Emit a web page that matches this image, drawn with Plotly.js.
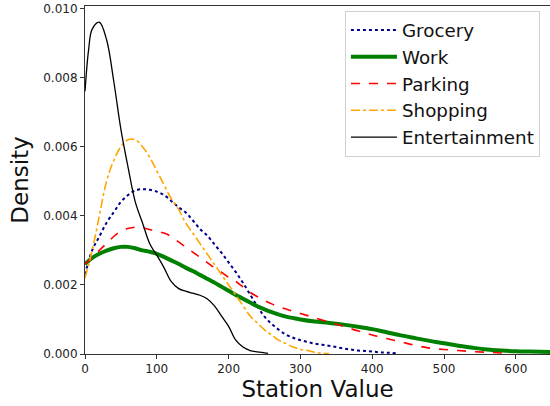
<!DOCTYPE html>
<html>
<head>
<meta charset="utf-8">
<script src="https://cdn.plot.ly/plotly-3.0.1.min.js"></script>
<style>html,body{margin:0;padding:0;background:#fff;}#chart{width:550px;height:406px;}</style>
</head>
<body>
<div id="chart"></div>
<script>
// Estimated density curves
const groceryX = [0,10,20,30,40,50,60,70,80,90,100,110,120,130,140,150,160,170,180,190,200,210,220,230,240,250,260,270,280,290,300,310,320,330,340,350,360,370,380,390,400,410,420,435];
const groceryY = [0.0023,0.0030,0.0034,0.0038,0.0041,0.0044,0.0046,0.00473,0.00477,0.00475,0.0047,0.0046,0.00443,0.00425,0.0041,0.00387,0.00362,0.00343,0.00318,0.00293,0.00265,0.00237,0.00206,0.00172,0.00138,0.00108,0.00087,0.0007,0.00056,0.00047,0.0004,0.00035,0.0003,0.00027,0.00024,0.0002,0.00016,0.00013,0.0001,0.00009,0.00007,0.00005,0.00004,0.00002];

const workX = [0,10,20,30,40,50,60,70,80,90,100,110,120,130,140,150,160,170,180,190,200,210,220,230,240,250,260,270,280,290,300,320,340,360,380,400,420,440,460,480,500,520,540,560,580,600,620,650];
const workY = [0.0026,0.00278,0.0029,0.00299,0.00306,0.0031,0.0031,0.00306,0.003,0.00296,0.0029,0.00281,0.00271,0.00261,0.0025,0.0024,0.00229,0.00218,0.00207,0.00195,0.00183,0.00171,0.0016,0.00149,0.00138,0.00129,0.00121,0.00114,0.00108,0.00104,0.001,0.00094,0.0009,0.00085,0.00079,0.00072,0.00063,0.00054,0.00046,0.00038,0.00031,0.00024,0.00018,0.00013,0.0001,0.00008,0.00007,0.00006];

const parkingX = [0,10,20,30,40,50,60,70,80,90,100,110,120,130,140,150,160,170,180,190,200,210,220,230,240,250,260,270,280,290,300,320,340,360,380,400,420,440,460,480,500,520,540,560,580,590];
const parkingY = [0.0026,0.0028,0.0030,0.0032,0.0034,0.00355,0.00363,0.00367,0.00365,0.0036,0.00355,0.0035,0.0034,0.00325,0.0031,0.00295,0.0028,0.00265,0.0025,0.00237,0.00222,0.0021,0.00194,0.00178,0.00166,0.00155,0.00145,0.00137,0.0013,0.00123,0.00117,0.00105,0.00092,0.0008,0.00067,0.00055,0.00045,0.00035,0.00025,0.00017,0.00013,0.0001,0.00007,0.00005,0.00003,0.00002];

const shoppingX = [0,10,20,30,40,50,60,70,80,90,100,110,120,130,140,150,160,170,180,190,200,210,220,230,240,250,260,270,280,290,300,310,320,330,340];
const shoppingY = [0.0022,0.0030,0.0040,0.0050,0.0056,0.0060,0.0062,0.0062,0.0060,0.0057,0.0053,0.0049,0.0045,0.0042,0.0038,0.0035,0.0032,0.0029,0.0026,0.0023,0.0020,0.0017,0.0014,0.0011,0.0009,0.0007,0.00055,0.0004,0.0003,0.0002,0.00013,0.0001,0.00005,0.00002,0.00001];

const entX = [0,5,10,20,30,40,50,60,70,80,90,100,110,120,130,140,150,160,170,180,190,200,210,220,230,240,255];
const entY = [0.0076,0.0088,0.0094,0.0096,0.0091,0.0079,0.0065,0.0054,0.0044,0.0038,0.0032,0.00286,0.0025,0.0021,0.0019,0.00182,0.00176,0.0017,0.0016,0.0014,0.0011,0.0008,0.0004,0.0002,0.0001,0.00006,0.00002];

const names = ['Grocery','Work','Parking','Shopping','Entertainment'];
const xTicks = [0,100,200,300,400,500,600];
const yTicks = [0,0.002,0.004,0.006,0.008,0.010];

const traces = [
  {x: groceryX, y: groceryY, name: names[0], line: {color: '#00008b', width: 2, dash: 'dot', shape: 'spline'}},
  {x: workX, y: workY, name: names[1], line: {color: '#008000', width: 4, shape: 'spline'}},
  {x: parkingX, y: parkingY, name: names[2], line: {color: '#ff0000', width: 1.6, dash: 'dash', shape: 'spline'}},
  {x: shoppingX, y: shoppingY, name: names[3], line: {color: '#ffa500', width: 1.6, dash: 'dashdot', shape: 'spline'}},
  {x: entX, y: entY, name: names[4], line: {color: '#000000', width: 1.3, shape: 'spline'}}
].map(t => Object.assign({type: 'scatter', mode: 'lines'}, t));

const layout = {
  width: 550, height: 406,
  margin: {l: 85, r: 0, t: 6, b: 52, pad: 0},
  paper_bgcolor: '#fff', plot_bgcolor: '#fff',
  font: {family: 'DejaVu Sans', color: '#111'},
  showlegend: true,
  legend: {
    x: 0.559, y: 0.987, xanchor: 'left', yanchor: 'top',
    font: {size: 18.3, family: 'DejaVu Sans', color: '#111'},
    bgcolor: 'rgba(255,255,255,0.8)', bordercolor: '#d0d0d0', borderwidth: 1,
    itemwidth: 46, tracegroupgap: 0
  },
  xaxis: {
    range: [0, 647.6], tickvals: xTicks, ticktext: xTicks.map(String),
    showgrid: false, zeroline: false, showline: true, mirror: true,
    linecolor: '#333', linewidth: 1, ticks: 'outside', ticklen: 4, tickcolor: '#333',
    tickfont: {size: 12, family: 'DejaVu Sans', color: '#222'},
    title: {text: 'Station Value', font: {size: 23, family: 'DejaVu Sans', color: '#111'}, standoff: 4}
  },
  yaxis: {
    range: [0, 0.01007], tickvals: yTicks, ticktext: yTicks.map(v => v.toFixed(3)),
    showgrid: false, zeroline: false, showline: true, mirror: false,
    linecolor: '#333', linewidth: 1, ticks: 'outside', ticklen: 4, tickcolor: '#333',
    tickfont: {size: 12, family: 'DejaVu Sans', color: '#222'},
    title: {text: 'Density', font: {size: 23, family: 'DejaVu Sans', color: '#111'}, standoff: 8}
  }
};

Plotly.newPlot('chart', traces, layout, {staticPlot: true, displayModeBar: false});
</script>
</body>
</html>
